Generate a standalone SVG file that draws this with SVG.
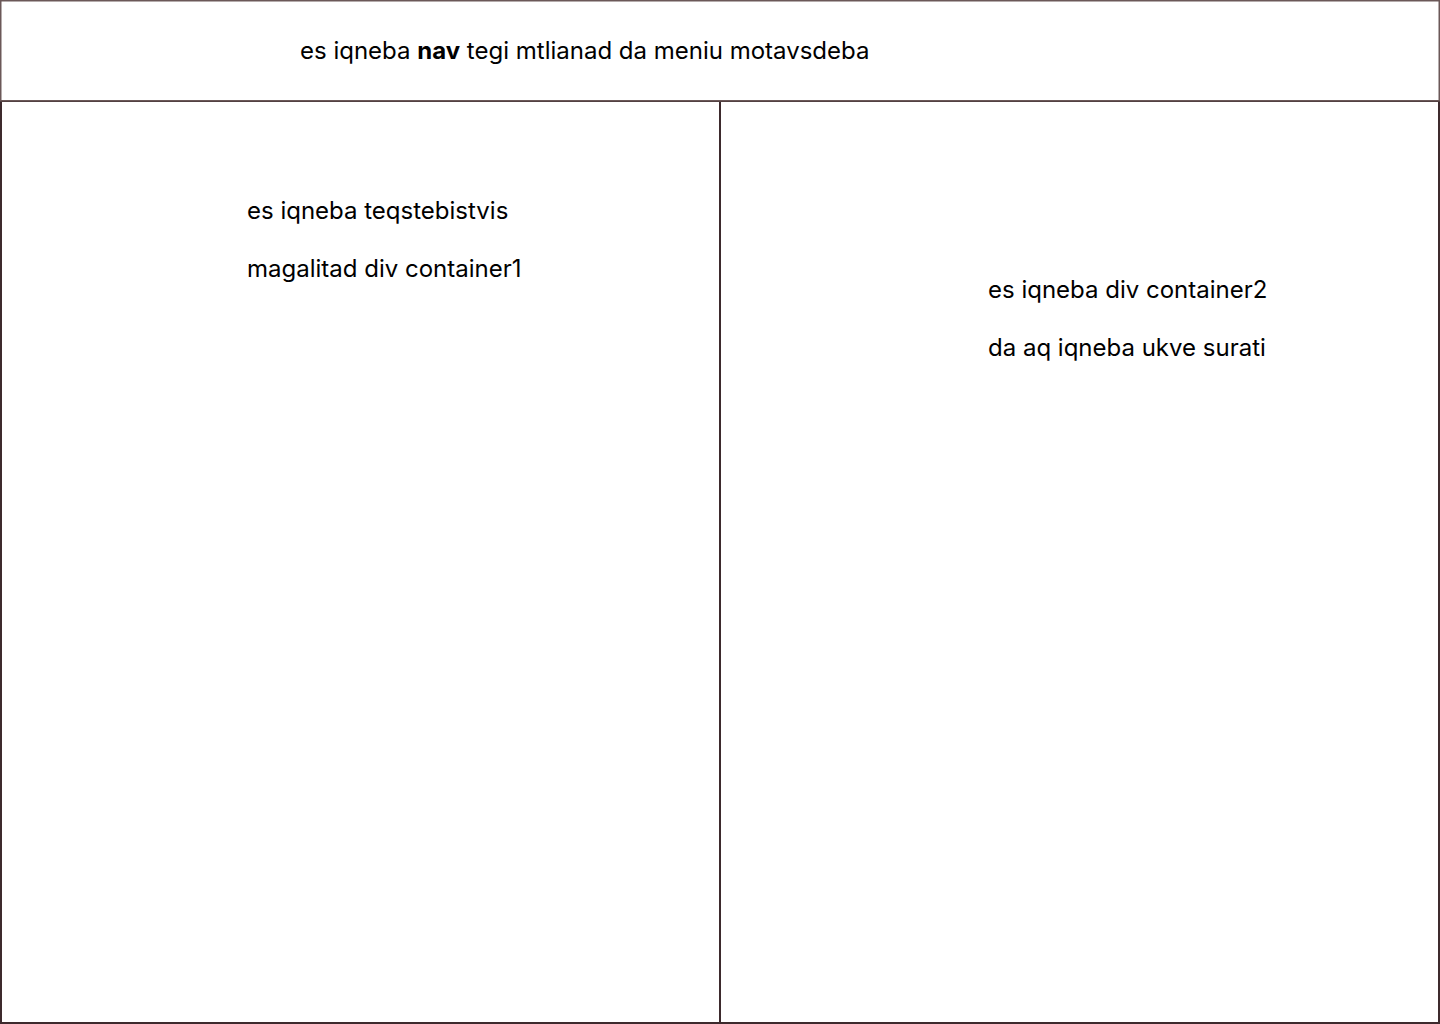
<svg xmlns="http://www.w3.org/2000/svg" width="1440" height="1024" viewBox="0 0 1440 1024">
<style>
.t{font-family:Inter,"Noto Sans",sans-serif;font-size:24px;fill:#000}
.b{font-weight:700}
.hdr{fill:#fff;stroke:#6b5858;stroke-width:1.5}
.pan{fill:#fff;stroke:#3d2a2d;stroke-width:2}
</style>
<rect width="1440" height="1024" fill="#fff"/>
<g id="container1">
<rect class="pan" x="1" y="101" width="719" height="922"/>
<text class="t" x="247" y="219">es iqneba teqstebistvis</text>
<text class="t" x="247" y="277">magalitad div container1</text>
</g>
<g id="container2">
<rect class="pan" x="720" y="101" width="719" height="922"/>
<text class="t" x="988" y="298">es iqneba div container2</text>
<text class="t" x="988" y="356">da aq iqneba ukve surati</text>
</g>
<g id="nav">
<rect class="hdr" x="0.75" y="0.75" width="1438.5" height="100"/>
<text class="t" x="300" y="59">es iqneba <tspan class="b">nav</tspan> tegi mtlianad da meniu motavsdeba</text>
</g>
<g id="connectors"/>
</svg>
